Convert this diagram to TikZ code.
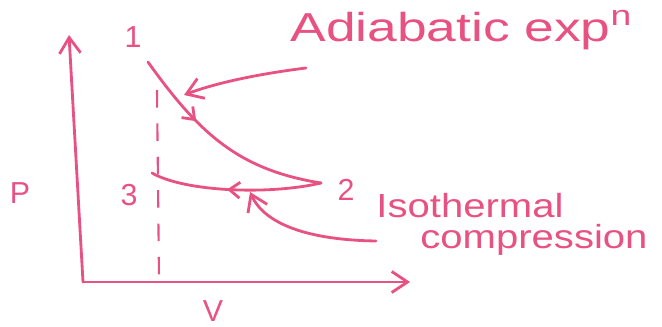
\documentclass[tikz,border=0pt]{standalone}
\usepackage{fontspec}
\setmainfont{Liberation Sans}
\usetikzlibrary{arrows.meta,decorations.markings}
\definecolor{ink}{RGB}{232,82,130}
\tikzset{
  pen/.style={draw=ink, line width=1.6pt, line cap=round, line join=round},
  barb/.style={-{Straight Barb[length=9pt,width=12pt]}},
  lbl/.style={text=ink, inner sep=0pt, font=\LARGE},
  note/.style={text=ink, inner sep=0pt, anchor=west, xscale=1.2, font=\fontsize{19}{22}\selectfont},
  midarrow/.style={postaction={decorate}, decoration={markings, mark=at position #1 with {\arrow{Straight Barb[length=6pt,width=9pt]}}}}
}
\begin{document}
\begin{tikzpicture}[x=0.02cm,y=-0.02cm]
\useasboundingbox (0,0) rectangle (662,327);
\clip (0,0) rectangle (662,327);
% axes
\coordinate (o) at (83,282);
\coordinate (ytop) at (69,35);
\coordinate (xend) at (410,282);
\draw[pen,barb] (o) -- (ytop);
\draw[pen,barb] (o) -- (xend);
% labels
\node[lbl] (P) at (20,193) {P};
\node[lbl] (V) at (213,311) {V};
\node[lbl] (n1) at (133,37) {1};
\node[lbl] (n3) at (129,195) {3};
\node[lbl] (n2) at (346,190) {2};
% dashed vertical
\coordinate (dtop) at (157,90);
\coordinate (dbot) at (159,278);
\draw[draw=ink, line width=1.2pt, dash pattern=on 10pt off 9pt] (dtop) -- (dbot);
% process points
\coordinate (p1) at (148,62);
\coordinate (p2) at (321,183);
\coordinate (p3) at (152,173);
% adiabatic 1->2
\draw[pen, midarrow=0.35] (p1) .. controls (200,135) and (240,170) .. (p2);
% isothermal 2->3
\draw[pen, midarrow=0.55] (p2) .. controls (270,195) and (185,192) .. (p3);
% annotation texts
\node[note, font=\fontsize{23}{26}\selectfont, xscale=1.1] (ad) at (290,30) {Adiabatic exp$^{\mathrm{n}}$};
\node[note] (iso) at (376,206) {Isothermal};
\node[note] (comp) at (420,240) {compression};
% annotation arrows
\coordinate (a1s) at (306,68);
\coordinate (a1e) at (184,95);
\draw[pen,barb] (a1s) .. controls (250,75) and (210,85) .. (a1e);
\coordinate (a2s) at (376,241);
\coordinate (a2e) at (250,192);
\draw[pen,barb] (a2s) .. controls (310,240) and (265,225) .. (a2e);
\end{tikzpicture}
\end{document}
